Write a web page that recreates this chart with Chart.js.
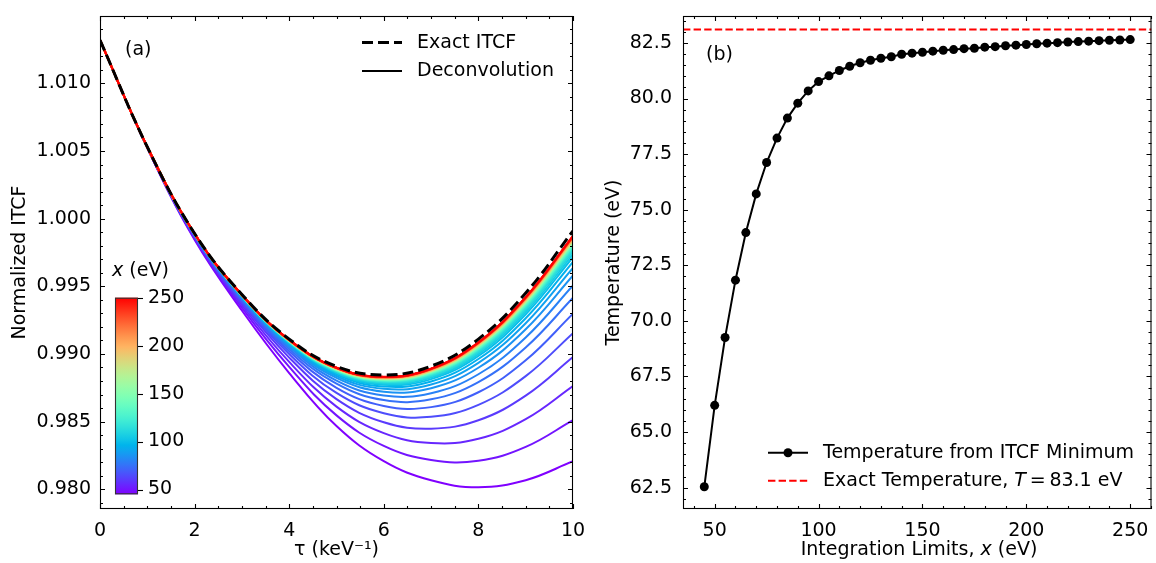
<!DOCTYPE html>
<html><head><meta charset="utf-8">
<script src="https://cdn.jsdelivr.net/npm/chart.js@4/dist/chart.umd.min.js"></script>
<style>
html,body{margin:0;padding:0;background:#fff;width:1156px;height:563px;overflow:hidden;}
#c1{position:absolute;left:0;top:0;}
#c2{position:absolute;left:590px;top:0;}
</style></head><body>
<canvas id="c1" width="590" height="563"></canvas>
<canvas id="c2" width="566" height="563"></canvas>
<script>
// ---------- data ----------
const tau = [0,1,2,3,4,5,6,7,8,9,10];
const exactITCF = [1.01320,1.00530,0.99890,0.99440,0.99110,0.98908,0.98845,0.98910,0.99110,0.99450,0.99910];
const limits = [45,50,55,60,65,70,75,80,85,90,95,100,105,110,115,120,125,130,135,140,145,150,155,160,165,170,175,180,185,190,195,200,205,210,215,220,225,230,235,240,245,250];
const deconvCurves = [
 [1.01320,1.00522,0.99844,0.99321,0.98859,0.98467,0.98207,0.98066,0.98015,0.98067,0.98207],
 [1.01320,1.00524,0.99852,0.99342,0.98904,0.98546,0.98320,0.98216,0.98210,0.98313,0.98511],
 [1.01320,1.00525,0.99859,0.99360,0.98941,0.98611,0.98415,0.98342,0.98373,0.98518,0.98763],
 [1.01320,1.00526,0.99865,0.99375,0.98973,0.98666,0.98495,0.98448,0.98510,0.98692,0.98977],
 [1.01320,1.00527,0.99870,0.99387,0.98999,0.98712,0.98562,0.98535,0.98624,0.98836,0.99154],
 [1.01320,1.00527,0.99874,0.99397,0.99020,0.98750,0.98616,0.98607,0.98717,0.98953,0.99298],
 [1.01320,1.00528,0.99877,0.99406,0.99037,0.98780,0.98659,0.98665,0.98792,0.99048,0.99415],
 [1.01320,1.00528,0.99879,0.99412,0.99051,0.98803,0.98693,0.98710,0.98850,0.99122,0.99506],
 [1.01320,1.00529,0.99881,0.99417,0.99061,0.98823,0.98721,0.98747,0.98898,0.99182,0.99580],
 [1.01320,1.00529,0.99883,0.99421,0.99070,0.98837,0.98742,0.98774,0.98934,0.99227,0.99636],
 [1.01320,1.00529,0.99884,0.99424,0.99076,0.98849,0.98759,0.98797,0.98963,0.99264,0.99681],
 [1.01320,1.00529,0.99885,0.99427,0.99082,0.98858,0.98772,0.98814,0.98985,0.99293,0.99716],
 [1.01320,1.00529,0.99885,0.99428,0.99085,0.98863,0.98780,0.98825,0.98999,0.99310,0.99738],
 [1.01320,1.00529,0.99886,0.99429,0.99088,0.98869,0.98788,0.98835,0.99012,0.99326,0.99758],
 [1.01320,1.00529,0.99886,0.99430,0.99090,0.98873,0.98794,0.98842,0.99022,0.99339,0.99773],
 [1.01320,1.00529,0.99887,0.99431,0.99092,0.98876,0.98799,0.98849,0.99031,0.99350,0.99787],
 [1.01320,1.00530,0.99887,0.99432,0.99093,0.98878,0.98802,0.98853,0.99037,0.99357,0.99796],
 [1.01320,1.00530,0.99887,0.99433,0.99094,0.98880,0.98805,0.98857,0.99041,0.99363,0.99803],
 [1.01320,1.00530,0.99887,0.99433,0.99095,0.98882,0.98807,0.98860,0.99045,0.99368,0.99809],
 [1.01320,1.00530,0.99888,0.99434,0.99097,0.98884,0.98811,0.98864,0.99051,0.99375,0.99818],
 [1.01320,1.00530,0.99888,0.99434,0.99097,0.98885,0.98812,0.98866,0.99054,0.99379,0.99822],
 [1.01320,1.00530,0.99888,0.99434,0.99098,0.98886,0.98813,0.98868,0.99056,0.99381,0.99826],
 [1.01320,1.00530,0.99888,0.99434,0.99098,0.98887,0.98815,0.98870,0.99058,0.99385,0.99830],
 [1.01320,1.00530,0.99888,0.99435,0.99099,0.98888,0.98816,0.98872,0.99061,0.99387,0.99833],
 [1.01320,1.00530,0.99888,0.99435,0.99099,0.98889,0.98817,0.98873,0.99062,0.99389,0.99835],
 [1.01320,1.00530,0.99888,0.99435,0.99100,0.98890,0.98818,0.98875,0.99064,0.99392,0.99839],
 [1.01320,1.00530,0.99888,0.99435,0.99100,0.98890,0.98819,0.98876,0.99065,0.99394,0.99840],
 [1.01320,1.00530,0.99888,0.99435,0.99100,0.98891,0.98821,0.98878,0.99068,0.99397,0.99845],
 [1.01320,1.00530,0.99888,0.99436,0.99101,0.98892,0.98821,0.98878,0.99069,0.99398,0.99846],
 [1.01320,1.00530,0.99888,0.99436,0.99101,0.98892,0.98822,0.98880,0.99071,0.99401,0.99850],
 [1.01320,1.00530,0.99888,0.99436,0.99101,0.98893,0.98823,0.98880,0.99072,0.99402,0.99850],
 [1.01320,1.00530,0.99889,0.99436,0.99102,0.98894,0.98825,0.98883,0.99075,0.99406,0.99855],
 [1.01320,1.00530,0.99889,0.99436,0.99103,0.98895,0.98826,0.98885,0.99077,0.99409,0.99860],
 [1.01320,1.00530,0.99889,0.99437,0.99103,0.98895,0.98827,0.98886,0.99079,0.99410,0.99861],
 [1.01320,1.00530,0.99889,0.99437,0.99103,0.98896,0.98827,0.98887,0.99080,0.99412,0.99863],
 [1.01320,1.00530,0.99889,0.99437,0.99103,0.98896,0.98828,0.98888,0.99081,0.99414,0.99865],
 [1.01320,1.00530,0.99889,0.99437,0.99104,0.98897,0.98829,0.98889,0.99082,0.99415,0.99867],
 [1.01320,1.00530,0.99889,0.99437,0.99104,0.98897,0.98829,0.98889,0.99083,0.99416,0.99868],
 [1.01320,1.00530,0.99889,0.99437,0.99104,0.98897,0.98830,0.98890,0.99083,0.99416,0.99869],
 [1.01320,1.00530,0.99889,0.99437,0.99104,0.98898,0.98830,0.98890,0.99084,0.99418,0.99870],
 [1.01320,1.00530,0.99889,0.99437,0.99104,0.98898,0.98830,0.98891,0.99085,0.99418,0.99871],
 [1.01320,1.00530,0.99889,0.99437,0.99105,0.98898,0.98831,0.98892,0.99086,0.99420,0.99873]
];
const tempFromMin = [62.54,66.20,69.25,71.83,73.97,75.71,77.12,78.22,79.12,79.79,80.34,80.76,81.02,81.26,81.45,81.61,81.72,81.81,81.88,81.99,82.04,82.08,82.13,82.17,82.20,82.24,82.26,82.31,82.33,82.37,82.40,82.43,82.46,82.49,82.51,82.54,82.56,82.58,82.60,82.62,82.63,82.65];
const exactT = 83.1;

const tauTicks = [0,2,4,6,8,10];
const itcfTicks = [0.980,0.985,0.990,0.995,1.000,1.005,1.010];
const limitTicks = [50,100,150,200,250];
const tempTicks = [62.5,65.0,67.5,70.0,72.5,75.0,77.5,80.0,82.5];
const cbTicks = [50,100,150,200,250];

// axis ranges
const L = {xmin:0, xmax:10, ymin:0.97854, ymax:1.01498};
const R = {xmin:34.75, xmax:260.25, ymin:61.54, ymax:83.71};
const cbMin = 45, cbMax = 250;

// ---------- helpers ----------
const FONT = "'DejaVu Sans', sans-serif";
Chart.defaults.font.family = FONT;
Chart.defaults.font.size = 19;
Chart.defaults.color = '#000';
Chart.defaults.animation = false;

function rainbow(t){
  t = Math.max(0, Math.min(1, t));
  const r = Math.min(1, Math.abs(2*t - 0.5));
  const g = Math.sin(Math.PI*t);
  const b = Math.max(0, Math.cos(Math.PI*t/2));
  return `rgb(${Math.round(r*255)},${Math.round(g*255)},${Math.round(b*255)})`;
}
function range(a,b,s){const o=[];for(let v=a;v<=b+1e-9;v+=s)o.push(+v.toFixed(6));return o;}
function noPad(s){s.paddingTop=0;s.paddingBottom=0;s.paddingLeft=0;s.paddingRight=0;}

function drawRich(ctx, parts, x, y, align){
  const ws = parts.map(p=>{ctx.font=(p.i?'italic ':'')+'19px '+FONT;return ctx.measureText(p.t).width;});
  const total = ws.reduce((a,b)=>a+b,0);
  let cx = align==='center' ? x-total/2 : x;
  ctx.textAlign='left'; ctx.textBaseline='middle';
  parts.forEach((p,i)=>{ctx.font=(p.i?'italic ':'')+'19px '+FONT;ctx.fillText(p.t,cx,y);cx+=ws[i];});
}

function framePlugin(id, xMaj, xMin, yMaj, yMin){
  return {
    id,
    afterDatasetsDraw(chart){
      const {ctx, chartArea:a, scales:{x,y}} = chart;
      ctx.save();
      ctx.strokeStyle='#000'; ctx.lineWidth=1.1; ctx.setLineDash([]);
      const tx=(vals,len)=>vals.forEach(v=>{
        const p=Math.round(x.getPixelForValue(v))+0.5;
        ctx.beginPath();ctx.moveTo(p,a.bottom);ctx.lineTo(p,a.bottom-len);
        ctx.moveTo(p,a.top);ctx.lineTo(p,a.top+len);ctx.stroke();});
      const ty=(vals,len)=>vals.forEach(v=>{
        const p=Math.round(y.getPixelForValue(v))+0.5;
        ctx.beginPath();ctx.moveTo(a.left,p);ctx.lineTo(a.left+len,p);
        ctx.moveTo(a.right,p);ctx.lineTo(a.right-len,p);ctx.stroke();});
      tx(xMaj,5); tx(xMin,3); ty(yMaj,5); ty(yMin,3);
      ctx.strokeRect(a.left+0.5,a.top+0.5,a.right-a.left-1,a.bottom-a.top-1);
      ctx.restore();
    }
  };
}

// ---------- left chart ----------
const leftDatasets = [{
  label:'Exact ITCF',
  data: tau.map((t,i)=>({x:t,y:exactITCF[i]})),
  borderColor:'#000', borderWidth:3, borderDash:[11,5], pointRadius:0, tension:0.4, order:0
}];
limits.forEach((lim,k)=>{
  leftDatasets.push({
    label:'x = '+lim,
    data: tau.map((t,i)=>({x:t,y:deconvCurves[k][i]})),
    borderColor: rainbow((lim-cbMin)/(cbMax-cbMin)),
    borderWidth:2, pointRadius:0, tension:0.4, order: limits.length-k
  });
});

const leftDeco = {
  id:'leftDeco',
  afterDraw(chart){
    const ctx = chart.ctx;
    ctx.save();
    ctx.fillStyle='#000';
    drawRich(ctx,[{t:'(a)'}],125,50,'left');
    // legend
    ctx.strokeStyle='#000';
    ctx.lineWidth=3; ctx.setLineDash([11,5]);
    ctx.beginPath(); ctx.moveTo(362,42.5); ctx.lineTo(402,42.5); ctx.stroke();
    ctx.setLineDash([]); ctx.lineWidth=2;
    ctx.beginPath(); ctx.moveTo(362,71); ctx.lineTo(402,71); ctx.stroke();
    drawRich(ctx,[{t:'Exact ITCF'}],417,43,'left');
    drawRich(ctx,[{t:'Deconvolution'}],417,71,'left');
    // colorbar
    const cbL=115, cbR=138, cbT=297.7, cbB=494.3;
    const grad = ctx.createLinearGradient(0,cbB,0,cbT);
    for(let i=0;i<=40;i++) grad.addColorStop(i/40, rainbow(i/40));
    ctx.fillStyle=grad; ctx.fillRect(cbL,cbT,cbR-cbL,cbB-cbT);
    ctx.strokeStyle='#333'; ctx.lineWidth=1.1;
    ctx.strokeRect(cbL+0.5,cbT+0.5,cbR-cbL-1,cbB-cbT-1);
    ctx.fillStyle='#000'; ctx.strokeStyle='#000';
    cbTicks.forEach(v=>{
      const py = cbB - (v-cbMin)/(cbMax-cbMin)*(cbB-cbT);
      ctx.beginPath(); ctx.moveTo(cbR,Math.round(py)+0.5); ctx.lineTo(cbR+5,Math.round(py)+0.5); ctx.stroke();
      drawRich(ctx,[{t:String(v)}],148,py,'left');
    });
    drawRich(ctx,[{t:'x',i:true},{t:' (eV)'}],112,271,'left');
    ctx.restore();
  }
};

new Chart(document.getElementById('c1'),{
  type:'line',
  data:{datasets:leftDatasets},
  options:{
    responsive:false, devicePixelRatio:1, animation:false,
    layout:{padding:{top:16,right:17,bottom:0,left:0}},
    plugins:{legend:{display:false}, tooltip:{enabled:false}},
    scales:{
      x:{type:'linear', min:L.xmin, max:L.xmax,
         grid:{display:false, drawTicks:false}, border:{display:false},
         ticks:{padding:11, maxRotation:0, autoSkip:false, callback:v=>String(v)},
         afterBuildTicks:s=>{s.ticks=tauTicks.map(v=>({value:v}));},
         afterFit:s=>{s.height=54; noPad(s);},
         title:{display:true, text:'τ (keV⁻¹)', padding:{top:0,bottom:2}}},
      y:{type:'linear', min:L.ymin, max:L.ymax,
         grid:{display:false, drawTicks:false}, border:{display:false},
         ticks:{padding:9, autoSkip:false, callback:v=>v.toFixed(3)},
         afterBuildTicks:s=>{s.ticks=itcfTicks.map(v=>({value:v}));},
         afterFit:s=>{s.width=100; noPad(s);},
         title:{display:true, text:'Normalized ITCF', padding:{top:9,bottom:0}}}
    }
  },
  plugins:[framePlugin('frameL', tauTicks, range(0,10,0.5).filter(v=>!tauTicks.includes(v)),
                       itcfTicks, range(0.979,1.014,0.001).filter(v=>!itcfTicks.some(t=>Math.abs(t-v)<1e-7))), leftDeco]
});

// ---------- right chart ----------
const rightDeco = {
  id:'rightDeco',
  afterDraw(chart){
    const ctx = chart.ctx;
    ctx.save(); ctx.fillStyle='#000';
    drawRich(ctx,[{t:'(b)'}],706-590,55,'left');
    // legend
    ctx.strokeStyle='#000'; ctx.lineWidth=2; ctx.setLineDash([]);
    ctx.beginPath(); ctx.moveTo(768-590,452.7); ctx.lineTo(808-590,452.7); ctx.stroke();
    ctx.beginPath(); ctx.arc(788-590,452.7,4.5,0,Math.PI*2); ctx.fill();
    ctx.strokeStyle='#ff0000'; ctx.setLineDash([7.4,3.2]);
    ctx.beginPath(); ctx.moveTo(768-590,480.7); ctx.lineTo(808-590,480.7); ctx.stroke();
    ctx.setLineDash([]);
    drawRich(ctx,[{t:'Temperature from ITCF Minimum'}],823-590,453,'left');
    drawRich(ctx,[{t:'Exact Temperature, '},{t:'T',i:true},{t:'\u2009=\u200983.1 eV'}],823-590,481,'left');
    // x axis title with italic x
    drawRich(ctx,[{t:'Integration Limits, '},{t:'x',i:true},{t:' (eV)'}],919-590,550,'center');
    ctx.restore();
  }
};

new Chart(document.getElementById('c2'),{
  type:'line',
  data:{datasets:[
    {label:'Temperature from ITCF Minimum',
     data: limits.map((v,i)=>({x:v,y:tempFromMin[i]})),
     borderColor:'#000', borderWidth:2, pointRadius:4.5, pointBackgroundColor:'#000',
     pointBorderWidth:0, tension:0, order:1},
    {label:'Exact Temperature',
     data:[{x:R.xmin,y:exactT},{x:R.xmax,y:exactT}],
     borderColor:'#ff0000', borderWidth:2, borderDash:[7.4,3.2], pointRadius:0, order:0}
  ]},
  options:{
    responsive:false, devicePixelRatio:1, animation:false,
    layout:{padding:{top:16,right:1,bottom:0,left:0}},
    plugins:{legend:{display:false}, tooltip:{enabled:false}},
    scales:{
      x:{type:'linear', min:R.xmin, max:R.xmax,
         grid:{display:false, drawTicks:false}, border:{display:false},
         ticks:{padding:11, maxRotation:0, autoSkip:false, callback:v=>String(v)},
         afterBuildTicks:s=>{s.ticks=limitTicks.map(v=>({value:v}));},
         afterFit:s=>{s.height=54; noPad(s);},
         title:{display:false}},
      y:{type:'linear', min:R.ymin, max:R.ymax,
         grid:{display:false, drawTicks:false}, border:{display:false},
         ticks:{padding:11, autoSkip:false, callback:v=>v.toFixed(1)},
         afterBuildTicks:s=>{s.ticks=tempTicks.map(v=>({value:v}));},
         afterFit:s=>{s.width=93; noPad(s);},
         title:{display:true, text:'Temperature (eV)', padding:{top:13,bottom:0}}}
    }
  },
  plugins:[framePlugin('frameR', limitTicks, range(40,260,10).filter(v=>!limitTicks.includes(v)),
                       tempTicks, range(62,83.5,0.5).filter(v=>!tempTicks.some(t=>Math.abs(t-v)<1e-7))), rightDeco]
});
</script>
</body></html>
